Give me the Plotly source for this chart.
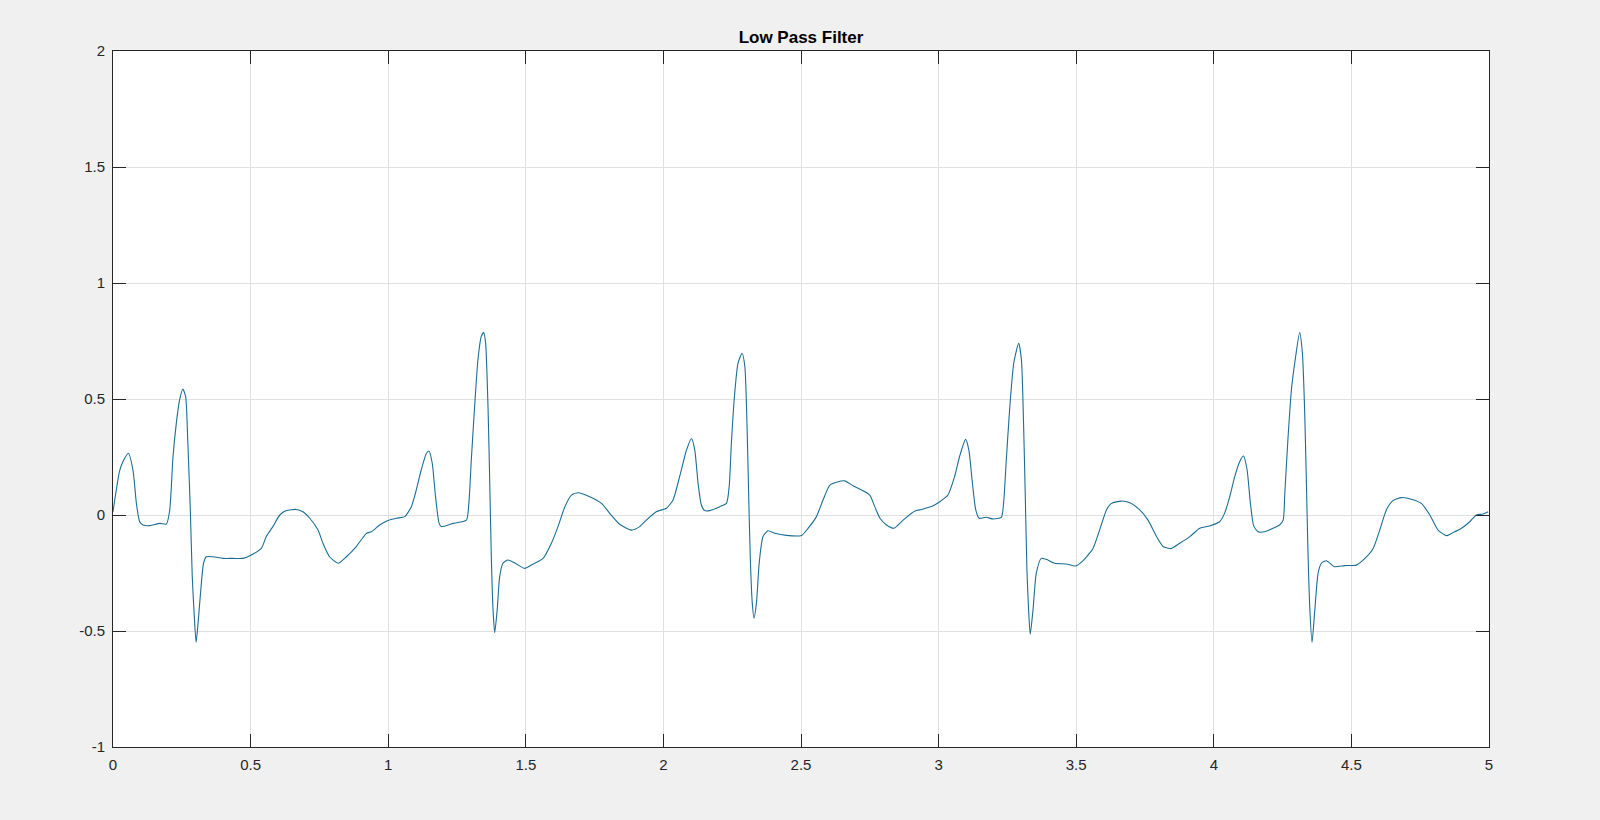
import plotly.graph_objects as go

# ---- data ----
time_s = [
    0, 0.024, 0.036, 0.056, 0.073, 0.085, 0.097, 0.109, 0.133, 0.17, 0.194, 0.206, 0.218, 0.23, 0.242, 0.254,
    0.264, 0.272, 0.281, 0.288, 0.296, 0.302, 0.309, 0.321, 0.329, 0.339, 0.363, 0.4, 0.436, 0.472, 0.503,
    0.539, 0.557, 0.581, 0.606, 0.63, 0.666, 0.69, 0.715, 0.745, 0.763, 0.787, 0.818, 0.848, 0.884, 0.921, 0.939,
    0.969, 0.999, 1.030, 1.060, 1.084, 1.102, 1.120, 1.139, 1.148, 1.160, 1.172, 1.185, 1.193, 1.236, 1.284,
    1.293, 1.302, 1.314, 1.326, 1.338, 1.347, 1.354, 1.363, 1.369, 1.375, 1.381, 1.387, 1.396, 1.405, 1.417,
    1.435, 1.466, 1.496, 1.527, 1.563, 1.593, 1.617, 1.642, 1.666, 1.690, 1.732, 1.775, 1.805, 1.841, 1.884,
    1.914, 1.938, 1.974,
    1.986, 2.011, 2.035, 2.059, 2.084, 2.102, 2.114, 2.126, 2.138, 2.150, 2.168, 2.205, 2.229, 2.239, 2.247,
    2.259, 2.271, 2.286, 2.296, 2.304, 2.310, 2.316, 2.323, 2.329, 2.338, 2.348, 2.362, 2.380, 2.405, 2.447,
    2.502, 2.526, 2.556, 2.580, 2.605, 2.629, 2.659, 2.689, 2.720, 2.750, 2.768, 2.787, 2.811, 2.837, 2.871,
    2.914, 2.938, 2.980,
    3.004, 3.034, 3.058, 3.076, 3.098, 3.11, 3.123, 3.135, 3.147, 3.173, 3.198, 3.228, 3.236, 3.246, 3.258,
    3.273, 3.291, 3.301, 3.309, 3.315, 3.321, 3.327, 3.333, 3.343, 3.355, 3.373, 3.391, 3.422, 3.464, 3.498,
    3.525, 3.561, 3.585, 3.61, 3.628, 3.664, 3.695, 3.731, 3.761, 3.792, 3.816, 3.846, 3.876, 3.913, 3.949, 3.985,
    4.021, 4.039, 4.058, 4.076, 4.094, 4.108, 4.121, 4.133, 4.145, 4.161, 4.185, 4.209, 4.239, 4.252, 4.258,
    4.270, 4.282, 4.294, 4.312, 4.322, 4.330, 4.336, 4.342, 4.348, 4.357, 4.367, 4.379, 4.391, 4.409, 4.439,
    4.476, 4.518, 4.549, 4.579, 4.603, 4.627, 4.651, 4.682, 4.718, 4.754, 4.785, 4.815, 4.845, 4.869, 4.9,
    4.93, 4.954, 4.978, 4.997,
]

amplitude = [
    0.014, 0.19, 0.23, 0.266, 0.19, 0.05, -0.029, -0.043, -0.046, -0.036, -0.039, 0.02, 0.25, 0.395, 0.496, 0.543,
    0.51, 0.31, 0.02, -0.266, -0.45, -0.549, -0.467, -0.295, -0.208, -0.18, -0.18, -0.187, -0.187, -0.187, -0.172,
    -0.144, -0.093, -0.05, 0.0, 0.019, 0.024, 0.014, -0.014, -0.065, -0.122, -0.18, -0.208, -0.18, -0.136, -0.079, -0.072,
    -0.043, -0.024, -0.014, -0.007, 0.036, 0.108, 0.194, 0.266, 0.276, 0.223, 0.079, -0.036, -0.05, -0.036, -0.022,
    0.05, 0.237, 0.467, 0.668, 0.769, 0.786, 0.74, 0.453, 0.136, -0.194, -0.41, -0.507, -0.41, -0.266, -0.208,
    -0.194, -0.211, -0.23, -0.211, -0.187, -0.122, -0.05, 0.036, 0.086, 0.096, 0.079, 0.05, 0.007, -0.04, -0.065,
    -0.05, -0.022, 0.014,
    0.019, 0.029, 0.065, 0.165, 0.28, 0.33, 0.28, 0.136, 0.043, 0.019, 0.019, 0.036, 0.05, 0.122, 0.309,
    0.524, 0.654, 0.697, 0.639, 0.381, 0.079, -0.194, -0.381, -0.445, -0.381, -0.208, -0.093, -0.068, -0.079, -0.088,
    -0.088, -0.057, -0.007, 0.065, 0.129, 0.141, 0.147, 0.126, 0.108, 0.086, 0.036, -0.014, -0.043, -0.057, -0.022,
    0.017, 0.024, 0.04,
    0.057, 0.086, 0.165, 0.251, 0.326, 0.28, 0.136, 0.022, -0.014, -0.01, -0.017, -0.01, 0.05, 0.237, 0.453,
    0.654, 0.74, 0.668, 0.381, 0.079, -0.237, -0.41, -0.514, -0.41, -0.251, -0.187, -0.191, -0.208, -0.211, -0.22,
    -0.197, -0.144, -0.065, 0.022, 0.05, 0.06, 0.053, 0.022, -0.022, -0.093, -0.136, -0.144, -0.122, -0.093, -0.057, -0.047,
    -0.029, 0.007, 0.079, 0.165, 0.23, 0.254, 0.194, 0.05, -0.047, -0.072, -0.072, -0.06, -0.043, -0.022, 0.093,
    0.338, 0.539, 0.654, 0.786, 0.697, 0.453, 0.165, -0.151, -0.381, -0.549, -0.41, -0.251, -0.208, -0.197, -0.223,
    -0.218, -0.216, -0.187, -0.144, -0.065, 0.022, 0.062, 0.075, 0.068, 0.05, 0.0, -0.065, -0.089, -0.076, -0.057,
    -0.029, 0.0, 0.004, 0.014,
]

x_tick_values = [0, 0.5, 1, 1.5, 2, 2.5, 3, 3.5, 4, 4.5, 5]
x_tick_labels = ["0", "0.5", "1", "1.5", "2", "2.5", "3", "3.5", "4", "4.5", "5"]
y_tick_values = [-1, -0.5, 0, 0.5, 1, 1.5, 2]
y_tick_labels = ["-1", "-0.5", "0", "0.5", "1", "1.5", "2"]

title_text = "Low Pass Filter"

# ---- figure ----
fig = go.Figure(
    go.Scatter(
        x=time_s,
        y=amplitude,
        mode="lines",
        line=dict(color="#1a6e95", width=1.1, shape="spline", smoothing=0.6),
        hoverinfo="x+y",
    )
)

axis_common = dict(
    showline=True,
    linecolor="#262626",
    linewidth=1,
    mirror="ticks",
    ticks="inside",
    ticklen=13,
    tickwidth=1,
    tickcolor="#262626",
    showgrid=True,
    gridcolor="#E0E0E0",
    gridwidth=1,
    zeroline=False,
    tickfont=dict(family="Liberation Sans, Arial, sans-serif", size=15, color="#262626"),
)

fig.update_xaxes(
    range=[0, 5],
    tickmode="array",
    tickvals=x_tick_values,
    ticktext=x_tick_labels,
    ticklabelstandoff=4,
    **axis_common,
)
fig.update_yaxes(
    range=[-1, 2],
    tickmode="array",
    tickvals=y_tick_values,
    ticktext=y_tick_labels,
    ticklabelstandoff=4,
    **axis_common,
)

fig.update_layout(
    width=1600,
    height=820,
    autosize=False,
    paper_bgcolor="#F0F0F0",
    plot_bgcolor="#FFFFFF",
    margin=dict(l=113, r=111, t=51, b=73, pad=0),
    showlegend=False,
    title=dict(
        text="<b>" + title_text + "</b>",
        x=(113 + 1489) / 2 / 1600,
        xref="container",
        xanchor="center",
        y=1 - 37 / 820,
        yref="container",
        yanchor="middle",
        font=dict(family="Liberation Sans, Arial, sans-serif", size=17, color="#000000"),
    ),
)

fig.write_html(
    "out.html",
    config={"displayModeBar": False},
    post_script="document.body.style.margin='0';document.body.style.overflow='hidden';",
)
